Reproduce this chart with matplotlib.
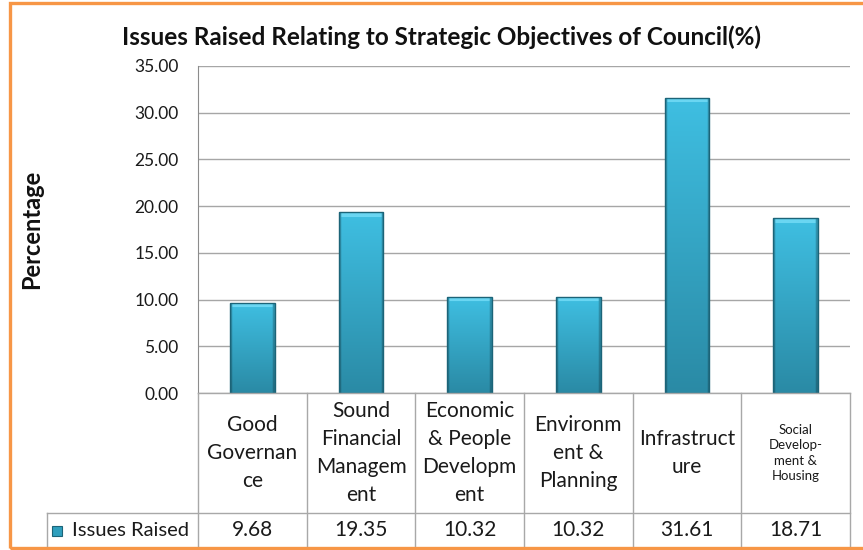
import numpy as np
import matplotlib.pyplot as plt
import matplotlib.transforms as mtransforms
from matplotlib.colors import to_rgb
from matplotlib.patches import Rectangle

# chart data
categories = [
    "Good\nGovernan\nce",
    "Sound\nFinancial\nManagem\nent",
    "Economic\n& People\nDevelopm\nent",
    "Environm\nent &\nPlanning",
    "Infrastruct\nure",
    "Social\nDevelop-\nment &\nHousing",
]
issues_raised = [9.68, 19.35, 10.32, 10.32, 31.61, 18.71]
series_name = "Issues Raised"
title = "Issues Raised Relating to Strategic Objectives of Council(%)"
y_label = "Percentage"
y_ticks = [0, 5, 10, 15, 20, 25, 30, 35]

plt.rcParams["font.family"] = ["Lato", "DejaVu Sans"]

W, H = 863, 550
GRID = "#a6a6a6"
TABLE = "#a8a8a8"
TOP_CLR = np.array(to_rgb("#3fbfe2"))
BOT_CLR = np.array(to_rgb("#2a8aa5"))
BEVEL = np.array(to_rgb("#6ad6f2"))


def fx(px):
    return px / W


def fy(py):
    return 1 - py / H


fig = plt.figure(figsize=(W / 100, H / 100), dpi=100)
ax = fig.add_axes([fx(198), fy(393), fx(652), 327 / H])

x = np.arange(len(categories))
ax.set_xlim(-0.5, len(categories) - 0.5)
ax.set_ylim(0, 35)

# bars: outline from ax.bar, fill from a clipped gradient image
bars = ax.bar(x, issues_raised, width=0.41, color="none",
              edgecolor="#1c6478", linewidth=1.0, zorder=4)
for b, v in zip(bars, issues_raised):
    rows = max(int(v / 35 * 327), 2)
    t = np.linspace(0, 1, rows)[:, None]
    img = TOP_CLR * (1 - t[..., None]) + BOT_CLR * t[..., None]
    img = np.repeat(img, 40, axis=1)
    img[:, :2] *= 0.78
    img[:, -2:] *= 0.78
    img[:5, 2:-2] = BEVEL
    x0 = b.get_x()
    im = ax.imshow(img, extent=[x0, x0 + b.get_width(), 0, v],
                   aspect="auto", zorder=3, interpolation="bilinear")
    im.set_clip_path(b)

ax.set_yticks(y_ticks)
ax.set_yticklabels([f"{t:.2f}" for t in y_ticks], fontsize=12.5, color="#1a1a1a")
ax.tick_params(axis="y", length=0, pad=14)
ax.set_xticks([])
ax.grid(axis="y", color=GRID, linewidth=1.0, zorder=0)
ax.set_axisbelow(True)
for s in ["top", "right", "bottom"]:
    ax.spines[s].set_visible(False)
ax.spines["left"].set_color("#8c8c8c")

fig.text(fx(32), fy(229), y_label, rotation=90, fontsize=17, fontweight="bold",
         ha="center", va="center", color="#111111")
fig.text(fx(441), fy(37), title, fontsize=17.5, fontweight="bold",
         ha="center", va="center", color="#111111")

# data table under the plot
blend = mtransforms.blended_transform_factory(ax.transData, ax.transAxes)
y_mid = -(513 - 393) / 327
y_bot = -(548 - 393) / 327
edges = np.arange(len(categories) + 1) - 0.5
ax.plot([edges[0], edges[-1]], [0, 0], transform=blend, color=TABLE,
        lw=1, clip_on=False, zorder=5)
for e in edges:
    ax.plot([e, e], [0, y_bot], transform=blend, color=TABLE, lw=1, clip_on=False)
legend_left = -0.5 - (198 - 47) / (652 / 6)
ax.plot([legend_left, edges[-1]], [y_mid, y_mid], transform=blend,
        color=TABLE, lw=1, clip_on=False)
ax.plot([legend_left, legend_left], [y_mid, y_bot], transform=blend,
        color=TABLE, lw=1, clip_on=False)

cat_y = (0 + y_mid) / 2
val_y = (y_mid + y_bot) / 2
for i, (c, v) in enumerate(zip(categories, issues_raised)):
    small = i == len(categories) - 1
    ax.text(i, cat_y, c, transform=blend, ha="center", va="center",
            fontsize=9.5 if small else 15, linespacing=1.32 if small else 1.5,
            color="#1a1a1a")
    ax.text(i, val_y, f"{v:.2f}", transform=blend, ha="center", va="center",
            fontsize=15, color="#1a1a1a")

fig.patches.append(Rectangle((fx(52), fy(536)), fx(10), 10 / H,
                             transform=fig.transFigure, facecolor="#2f9fbd",
                             edgecolor="#1c6478", lw=0.8))
fig.text(fx(72), fy(530), series_name, fontsize=14.5, ha="left", va="center",
         color="#1a1a1a")

# outer chart frame
fig.patches.append(Rectangle((fx(10), fy(548)), fx(870), (548 - 3) / H,
                             transform=fig.transFigure, facecolor="none",
                             edgecolor="#f79646", lw=2.4, clip_on=False))

fig.savefig("out.png", dpi=100, facecolor="white")
